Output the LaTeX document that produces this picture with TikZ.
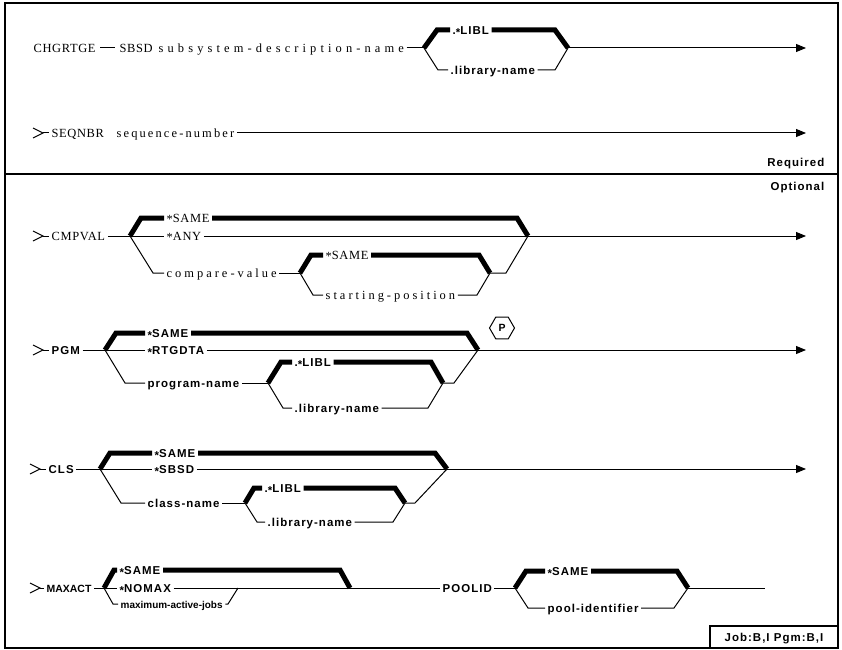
\documentclass[tikz,border=0pt]{standalone}
\usepackage{fontspec}
\setmainfont{Liberation Serif}
\newfontfamily\srcap[LetterSpace=5]{Liberation Serif}
\newfontfamily\srlow[LetterSpace=24]{Liberation Serif}
\newfontfamily\srseq[LetterSpace=17]{Liberation Serif}
\newfontfamily\srwide[LetterSpace=33]{Liberation Serif}
\newfontfamily\sscap[LetterSpace=9]{Liberation Sans}
\newfontfamily\ssnat{Liberation Sans}
\newcommand\astk{\raisebox{-0.3ex}{*}}
\usetikzlibrary{arrows.meta,shapes.geometric}
\tikzset{
  lab/.style={anchor=west, inner sep=2.5bp, text height=8.5bp, text depth=0bp},
  rc/.style={lab, font=\srcap\fontsize{12.5}{14}\selectfont},
  rl/.style={lab, font=\srlow\fontsize{12.5}{14}\selectfont},
  rs/.style={lab, font=\srseq\fontsize{12.5}{14}\selectfont},
  rw/.style={lab, font=\srwide\fontsize{12.5}{14}\selectfont},
  sc/.style={lab, font=\sscap\bfseries\fontsize{11.5}{13}\selectfont},
  sn/.style={lab, font=\ssnat\bfseries\fontsize{10}{11}\selectfont},
  sm/.style={lab, font=\ssnat\bfseries\fontsize{10.5}{12}\selectfont},
  thin/.style={line width=1bp},
  thk/.style={line width=5bp, line join=miter},
  arr/.style={thin, -{Triangle[length=10bp,width=8bp]}},
  frame/.style={line width=1.3bp},
}
\begin{document}
\begin{tikzpicture}[x=1bp,y=-1bp]
\useasboundingbox (0,0) rectangle (842,650);
% frame
\draw[frame] (5,3) rectangle (838,648);
\draw[frame] (5,174) -- (838,174);
\draw[frame] (710,648) -- (710,626) -- (838,626);
\node[sc, anchor=center] (job) at (774,637) {Job:B,I Pgm:B,I};

% ---------- Row 1
\node[rc] (chg) at (31,48) {CHGRTGE};
\node[rc] (sbsd) at (117,48) {SBSD};
\node[rw] (sdn) at (156,48) {subsystem-description-name};
\draw[thin,shorten <=2bp,shorten >=2bp] (chg.east) -- (sbsd.west);
\coordinate (L1) at (424,48);
\coordinate (R1) at (568,48);
\node[sc] (a1) at (450,30) {.\astk LIBL};
\node[sc] (b1) at (448,70) {.library-name};
\draw[thin] (sdn.east) -- (L1);
\draw[thk] (L1) -- (437,30) -- (a1.west);
\draw[thk] (a1.east) -- (555,30) -- (R1);
\draw[thin] (L1) -- (438,70) -- (b1.west);
\draw[thin] (b1.east) -- (555,70) -- (R1);
\draw[arr] (R1) -- (806,48);

% ---------- Row 2
\coordinate (e2) at (43,133);
\draw[thin] (33,128) -- (e2) -- (33,138);
\node[rc] (seq) at (49,133) {SEQNBR};
\node[rs] (sqn) at (114,133) {sequence-number};
\draw[thin] (e2) -- (seq.west);
\draw[arr] (sqn.east) -- (806,133);

\node[sc, anchor=east] (req) at (827,162) {Required};
\node[sc, anchor=east] (opt) at (827,186) {Optional};

% ---------- Row 3 CMPVAL
\coordinate (e3) at (43,236);
\draw[thin] (33,231) -- (e3) -- (33,241);
\node[rc] (cmp) at (49,236) {CMPVAL};
\draw[thin] (e3) -- (cmp.west);
\coordinate (L3) at (130,236);
\coordinate (R3) at (528,236);
\draw[thin] (cmp.east) -- (L3);
\node[rc] (c3a) at (164,218) {\astk SAME};
\node[rc] (c3b) at (164,236) {\astk ANY};
\node[rl] (c3c) at (164,273) {compare-value};
\draw[thk] (L3) -- (141,218) -- (c3a.west);
\draw[thk] (c3a.east) -- (517,218) -- (R3);
\draw[thin] (L3) -- (c3b.west);
\draw[thin] (c3b.east) -- (R3);
\draw[thin] (L3) -- (153,273) -- (c3c.west);
\coordinate (L3i) at (300,273);
\coordinate (R3i) at (490,273);
\draw[thin] (c3c.east) -- (L3i);
\node[rc] (c3d) at (323,255) {\astk SAME};
\node[rl] (c3e) at (323,295) {starting-position};
\draw[thk] (L3i) -- (311,255) -- (c3d.west);
\draw[thk] (c3d.east) -- (479,255) -- (R3i);
\draw[thin] (L3i) -- (313,295) -- (c3e.west);
\draw[thin] (c3e.east) -- (477,295) -- (R3i);
\draw[thin] (R3i) -- (506,273) -- (R3);
\draw[arr] (R3) -- (806,236);

% ---------- Row 4 PGM
\coordinate (e4) at (43,350);
\draw[thin] (33,345) -- (e4) -- (33,355);
\node[sc] (pgm) at (49,350) {PGM};
\draw[thin] (e4) -- (pgm.west);
\coordinate (L4) at (105,350);
\coordinate (R4) at (478,350);
\draw[thin] (pgm.east) -- (L4);
\node[sc] (p4a) at (145,333) {\astk SAME};
\node[sc] (p4b) at (145,350) {\astk RTGDTA};
\node[sc] (p4c) at (145,383) {program-name};
\draw[thk] (L4) -- (116,333) -- (p4a.west);
\draw[thk] (p4a.east) -- (467,333) -- (R4);
\draw[thin] (L4) -- (p4b.west);
\draw[thin] (p4b.east) -- (R4);
\draw[thin] (L4) -- (125,383) -- (p4c.west);
\coordinate (L4i) at (268,383);
\coordinate (R4i) at (443,383);
\draw[thin] (p4c.east) -- (L4i);
\node[sc] (p4d) at (292,362) {.\astk LIBL};
\node[sc] (p4e) at (292,408) {.library-name};
\draw[thk] (L4i) -- (281,362) -- (p4d.west);
\draw[thk] (p4d.east) -- (431,362) -- (R4i);
\draw[thin] (L4i) -- (283,408) -- (p4e.west);
\draw[thin] (p4e.east) -- (428,408) -- (R4i);
\draw[thin] (R4i) -- (454,383) -- (R4);
\node[regular polygon, regular polygon sides=6, draw, thin, minimum size=25bp, inner sep=0pt, font=\ssnat\bfseries\fontsize{10.5}{11}\selectfont] (hexP) at (502,328) {P};
\draw[arr] (R4) -- (806,350);

% ---------- Row 5 CLS
\coordinate (e5) at (40,469);
\draw[thin] (30,464) -- (e5) -- (30,474);
\node[sc] (cls) at (46,469) {CLS};
\draw[thin] (e5) -- (cls.west);
\coordinate (L5) at (100,469);
\coordinate (R5) at (447,469);
\draw[thin] (cls.east) -- (L5);
\node[sc] (c5a) at (152,453) {\astk SAME};
\node[sc] (c5b) at (152,469) {\astk SBSD};
\node[sc] (c5c) at (145,503) {class-name};
\draw[thk] (L5) -- (110,453) -- (c5a.west);
\draw[thk] (c5a.east) -- (435,453) -- (R5);
\draw[thin] (L5) -- (121,503) -- (c5c.west);
\draw[thin] (L5) -- (c5b.west);
\draw[thin] (c5b.east) -- (R5);
\coordinate (L5i) at (245,503);
\coordinate (R5i) at (405,503);
\draw[thin] (c5c.east) -- (L5i);
\node[sc] (c5d) at (262,488) {.\astk LIBL};
\node[sc] (c5e) at (265,522) {.library-name};
\draw[thk] (L5i) -- (254,488) -- (c5d.west);
\draw[thk] (c5d.east) -- (395,488) -- (R5i);
\draw[thin] (L5i) -- (257,522) -- (c5e.west);
\draw[thin] (c5e.east) -- (393,522) -- (R5i);
\draw[thin] (R5i) -- (415,503) -- (R5);
\draw[arr] (R5) -- (806,469);

% ---------- Row 6 MAXACT
\coordinate (e6) at (40,588);
\draw[thin] (30,583) -- (e6) -- (30,593);
\node[sm] (mx) at (44,588) {MAXACT};
\draw[thin] (e6) -- (mx.west);
\coordinate (L6) at (104,588);
\coordinate (R6) at (350,588);
\draw[thin] (mx.east) -- (L6);
\node[sc] (m6a) at (117,570) {\astk SAME};
\node[sc] (m6b) at (117,588) {\astk NOMAX};
\node[sn] (m6c) at (118,604) {maximum-active-jobs};
\draw[thk] (L6) -- (114,570) -- (m6a.west);
\draw[thk] (m6a.east) -- (340,570) -- (R6);
\draw[thin] (L6) -- (m6b.west);
\draw[thin] (m6b.east) -- (R6);
\draw[thin] (L6) -- (113,604) -- (m6c.west);
\draw[thin] (m6c.east) -- (228,604) -- (238,588);
\node[sc] (pool) at (440,588) {POOLID};
\draw[thin] (R6) -- (pool.west);
\coordinate (L7) at (515,588);
\coordinate (R7) at (688,588);
\draw[thin] (pool.east) -- (L7);
\node[sc] (o7a) at (545,571) {\astk SAME};
\node[sc] (o7b) at (545,608) {pool-identifier};
\draw[thk] (L7) -- (526,571) -- (o7a.west);
\draw[thk] (o7a.east) -- (677,571) -- (R7);
\draw[thin] (L7) -- (528,608) -- (o7b.west);
\draw[thin] (o7b.east) -- (674,608) -- (R7);
\draw[thin] (R7) -- (765,588);
\end{tikzpicture}
\end{document}
